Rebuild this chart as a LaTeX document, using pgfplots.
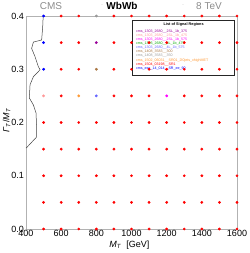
\documentclass[border=0pt]{standalone}
\usepackage{fontspec}
\setmainfont{Liberation Sans}
\usepackage{pgfplots}
\pgfplotsset{compat=1.18}
\definecolor{cpurple}{HTML}{990099}
\definecolor{cpink}{HTML}{FF9999}
\definecolor{cmag}{HTML}{FF00FF}
\definecolor{cgreen}{HTML}{00AA00}
\definecolor{clblue}{HTML}{6666FF}
\definecolor{cbrown}{HTML}{AA7744}
\definecolor{cgray}{HTML}{999999}
\definecolor{corange}{HTML}{FF9933}
\definecolor{cred}{HTML}{FF0000}
\definecolor{cblue}{HTML}{0000FF}
\begin{document}
\begin{tikzpicture}
\begin{axis}[
  at={(0,0)}, anchor=south west,
  scale only axis, width=211pt, height=213pt,
  xmin=400, xmax=1600, ymin=0, ymax=0.4,
  clip=false,
  axis line style={draw=black!30},
  major tick length=0pt,
  xtick={400,600,...,1600},
  ytick={0,0.1,0.2,0.3,0.4},
  /pgf/number format/assume math mode=true,
  /pgf/number format/.cd, fixed, 1000 sep={}, /pgfplots/.cd,
  yticklabel={\pgfmathprintnumber[fixed,fixed zerofill,precision=1]{\tick}},
  scaled ticks=false,
  ticklabel style={font=\fontsize{9}{10}\selectfont},
  xticklabel style={yshift=2pt},
  yticklabel style={xshift=1.5pt},
  xlabel={\textit{M}\textsubscript{\textit{T}}\ \ [GeV]},
  ylabel={\textit{Γ}\textsubscript{\textit{T}}/\textit{M}\textsubscript{\textit{T}}},
  label style={font=\fontsize{9}{10}\selectfont},
  xlabel style={at={(rel axis cs:0.49,0)}, anchor=center, yshift=-16pt},
  ylabel style={at={(rel axis cs:-0.092,0.51)}, anchor=center},
]
\addplot[only marks, mark=*, mark size=1.2pt, cred, mark options={draw=none}] table {
x y
500 0
600 0
700 0
800 0
900 0
1000 0
1100 0
1200 0
1300 0
1400 0
1500 0
1600 0
500 0.05
600 0.05
700 0.05
800 0.05
900 0.05
1000 0.05
1100 0.05
1200 0.05
1300 0.05
1400 0.05
1500 0.05
1600 0.05
500 0.1
600 0.1
700 0.1
800 0.1
900 0.1
1000 0.1
1100 0.1
1200 0.1
1300 0.1
1400 0.1
1500 0.1
1600 0.1
500 0.15
600 0.15
700 0.15
800 0.15
900 0.15
1000 0.15
1100 0.15
1200 0.15
1300 0.15
1400 0.15
1500 0.15
1600 0.15
500 0.2
600 0.2
700 0.2
800 0.2
900 0.2
1000 0.2
1100 0.2
1200 0.2
1300 0.2
1400 0.2
1500 0.2
1600 0.2
600 0.25
900 0.25
1000 0.25
1100 0.25
1300 0.25
1400 0.25
1500 0.25
1600 0.25
600 0.3
700 0.3
900 0.3
1000 0.3
1100 0.3
1200 0.3
1300 0.3
1400 0.3
1500 0.3
1600 0.3
600 0.35
700 0.35
900 0.35
1000 0.35
1100 0.35
1200 0.35
1300 0.35
1400 0.35
1500 0.35
1600 0.35
600 0.4
700 0.4
900 0.4
1000 0.4
1100 0.4
1200 0.4
1300 0.4
1400 0.4
1500 0.4
1600 0.4
};
\addplot[only marks, mark=*, mark size=1.2pt, cblue, mark options={draw=none}] coordinates {(500,0.4) (500,0.35) (500,0.3)};
\addplot[only marks, mark=*, mark size=1.2pt, cpink, mark options={draw=none}] coordinates {(500,0.25)};
\addplot[only marks, mark=*, mark size=1.2pt, corange, mark options={draw=none}] coordinates {(700,0.25)};
\addplot[only marks, mark=*, mark size=1.2pt, clblue, mark options={draw=none}] coordinates {(800,0.25)};
\addplot[only marks, mark=*, mark size=1.2pt, cbrown, mark options={draw=none}] coordinates {(800,0.3)};
\addplot[only marks, mark=*, mark size=1.2pt, cpurple, mark options={draw=none}] coordinates {(800,0.35)};
\addplot[only marks, mark=*, mark size=1.2pt, cgray, mark options={draw=none}] coordinates {(800,0.4)};
\addplot[only marks, mark=*, mark size=1.2pt, cmag, mark options={draw=none}] coordinates {(1200,0.25)};
\addplot[black!75, line width=0.5pt] coordinates {
(498,0.402) (495,0.380) (489,0.355) (442,0.351) (432,0.339) (451,0.324)
(470,0.305) (480,0.299) (442,0.286) (423,0.271) (419,0.246) (442,0.233)
(457,0.218) (461,0.186) (461,0.173) (404,0.153) (400,0.152)
};
\node[draw=black!85, line width=0.6pt, fill=white, anchor=north east,
  minimum width=102pt, minimum height=55pt, inner sep=0pt]
  (leg) at (rel axis cs:0.9905,0.981) {};
\node[anchor=north, font=\bfseries\fontsize{3.8}{4.3}\selectfont, inner sep=0pt]
  at ([yshift=-3pt]leg.north) {List of Signal Regions};
\node[anchor=north west, align=left, font=\fontsize{3.6}{4.1}\selectfont, inner sep=0pt]
  at ([xshift=3.5pt,yshift=-9.5pt]leg.north west) {%
\textcolor{cpurple}{cms\_1303\_2680\_\_2SL\_1b\_375}\\
\textcolor{cpink}{cms\_1303\_2680\_\_2SL\_1b\_475}\\
\textcolor{cmag}{cms\_1303\_2680\_\_2SL\_1b\_575}\\
\textcolor{cgreen}{cms\_1303\_2680\_\_4L\_1b\_475}\\
\textcolor{clblue}{cms\_1303\_2680\_\_4L\_1b\_575}\\
\textcolor{cbrown}{cms\_1408\_3583\_\_300}\\
\textcolor{cgray}{cms\_1408\_3583\_\_350}\\
\textcolor{corange}{cms\_1502\_06031\_\_SR01\_2l0jets\_xhighMET}\\
\textcolor{cred}{cms\_1504\_03198\_\_SR1}\\
\textcolor{cblue}{cms\_exo\_14\_014\_\_SR\_ee\_90}};
\end{axis}
\node[font=\fontsize{10}{12}\selectfont, text=black!45] at (25pt,223pt) {CMS};
\node[font=\fontsize{10}{12}\selectfont\bfseries] at (96pt,223pt) {WbWb};
\node[font=\fontsize{10}{12}\selectfont, text=black!45] at (183pt,223pt) {8 TeV};
\node[font=\fontsize{6}{7}\selectfont, text=black!30] at (76pt,223pt) {·};
\node[font=\fontsize{6}{7}\selectfont, text=black!30] at (157pt,223pt) {·};
\pgfresetboundingbox
\path[use as bounding box] (-26pt,-24pt) rectangle (223pt,229pt);
\end{tikzpicture}
\end{document}
